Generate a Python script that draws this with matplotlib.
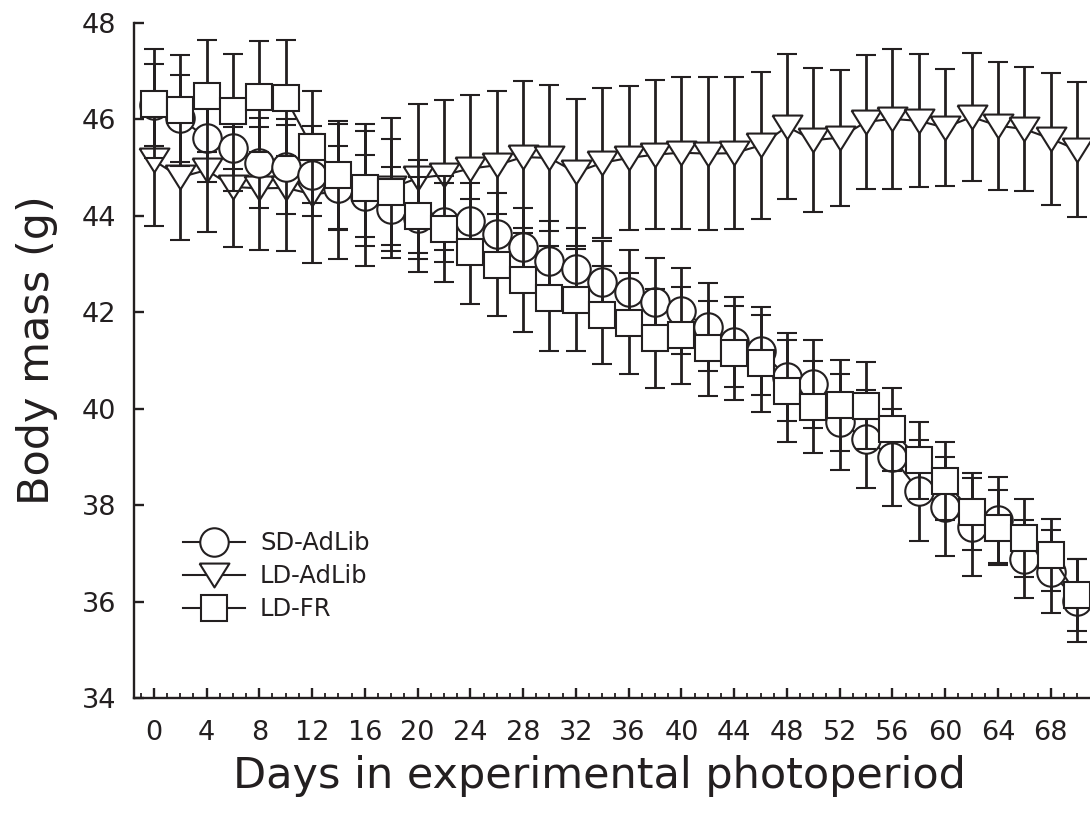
import matplotlib
matplotlib.use("Agg")
import matplotlib.pyplot as plt
from matplotlib.lines import Line2D
import numpy as np

# days in experimental photoperiod
days = list(range(0, 71, 2))

sd_adlib_mean = [46.30, 46.02, 45.62, 45.40, 45.09, 45.02, 44.84, 44.58, 44.42, 44.15,
                 43.95, 43.87, 43.90, 43.63, 43.36, 43.06, 42.89, 42.62, 42.42, 42.21,
                 42.02, 41.69, 41.38, 41.20, 40.66, 40.51, 39.72, 39.37, 38.99, 38.30,
                 37.97, 37.55, 37.69, 36.88, 36.62, 36.02]
sd_adlib_err = [0.85, 0.90, 0.92, 0.88, 0.93, 0.98, 0.85, 0.87, 0.85, 0.87,
                0.85, 0.82, 0.79, 0.84, 0.80, 0.84, 0.85, 0.86, 0.88, 0.91,
                0.89, 0.91, 0.93, 0.91, 0.91, 0.92, 1.00, 1.02, 1.01, 1.05,
                1.03, 1.02, 0.90, 0.81, 0.86, 0.86]

ld_adlib_mean = [45.15, 44.80, 44.95, 44.60, 44.57, 44.58, 44.45, 44.50, 44.43, 44.58,
                 44.78, 44.85, 44.98, 45.05, 45.22, 45.20, 44.90, 45.10, 45.20, 45.27,
                 45.31, 45.29, 45.30, 45.46, 45.85, 45.57, 45.62, 45.95, 46.01, 45.97,
                 45.83, 46.05, 45.87, 45.80, 45.60, 45.37]
ld_adlib_err = [1.35, 1.30, 1.28, 1.25, 1.27, 1.30, 1.42, 1.40, 1.47, 1.46,
                1.55, 1.56, 1.52, 1.55, 1.57, 1.52, 1.53, 1.56, 1.50, 1.54,
                1.58, 1.58, 1.57, 1.52, 1.50, 1.49, 1.41, 1.39, 1.45, 1.38,
                1.22, 1.33, 1.33, 1.28, 1.37, 1.40]

ld_fr_mean = [46.33, 46.19, 46.48, 46.17, 46.47, 46.44, 45.43, 44.84, 44.57, 44.49,
              43.99, 43.72, 43.26, 42.98, 42.67, 42.29, 42.26, 41.94, 41.77, 41.46,
              41.52, 41.25, 41.16, 40.94, 40.37, 40.04, 40.07, 40.06, 39.57, 38.93,
              38.50, 37.86, 37.53, 37.32, 36.97, 36.13]
ld_fr_err = [1.13, 1.15, 1.16, 1.19, 1.15, 1.20, 1.17, 1.12, 1.20, 1.10,
             1.16, 1.10, 1.08, 1.06, 1.08, 1.09, 1.06, 1.02, 1.04, 1.02,
             1.00, 0.98, 0.98, 1.00, 1.05, 0.95, 0.94, 0.90, 0.86, 0.80,
             0.80, 0.80, 0.78, 0.80, 0.75, 0.75]

labels = ["SD-AdLib", "LD-AdLib", "LD-FR"]

INK = '#231f20'
tri_down = [(-1, 0.8), (1, 0.8), (0, -0.8), (-1, 0.8)]
SIZES = {'o': 20.5, 'v': 21.5, 's': 18.5}


def plot_series(ax, mean, err, marker, size, z):
    ax.errorbar(days, mean, yerr=err, fmt='-', color=INK, lw=1.5,
                marker=marker, markersize=size, markerfacecolor='white',
                markeredgecolor=INK, markeredgewidth=1.5,
                ecolor=INK, elinewidth=2.0, capsize=7.5, capthick=2.0,
                zorder=z)


def legend_handle(marker, size):
    return Line2D([], [], color=INK, lw=1.5, marker=marker, markersize=size,
                  markerfacecolor='white', markeredgecolor=INK, markeredgewidth=1.5)


fig = plt.figure(figsize=(10.9, 8.27), dpi=100)
ax = fig.add_axes([134 / 1090, 1 - 698 / 827, 1 - 134 / 1090, 675 / 827])

plot_series(ax, ld_adlib_mean, ld_adlib_err, tri_down, SIZES['v'], 2)
plot_series(ax, sd_adlib_mean, sd_adlib_err, 'o', SIZES['o'], 3)
plot_series(ax, ld_fr_mean, ld_fr_err, 's', SIZES['s'], 4)

ax.set_xlim(-1.5, 70.98)
ax.set_ylim(34, 48)
ax.set_xticks(np.arange(0, 69, 4))
ax.set_xticks(np.arange(-1, 71, 1), minor=True)
ax.set_yticks(np.arange(34, 49, 2))

for side in ['top', 'right']:
    ax.spines[side].set_visible(False)
for side in ['left', 'bottom']:
    ax.spines[side].set_linewidth(1.7)
    ax.spines[side].set_color(INK)

ax.tick_params(which='major', direction='in', length=7.5, width=1.7, color=INK,
               labelsize=19.5, labelcolor=INK)
ax.tick_params(which='minor', direction='in', length=3.8, width=1.3, color=INK)
ax.tick_params(axis='x', pad=16)
ax.tick_params(axis='y', pad=13)

ax.set_xlabel("Days in experimental photoperiod", fontsize=31, color=INK)
ax.set_ylabel("Body mass (g)", fontsize=31, color=INK)
ax.xaxis.set_label_coords(0.487, -0.085)
ax.yaxis.set_label_coords(-0.08, 0.515)

handles = [legend_handle('o', SIZES['o']),
           legend_handle(tri_down, SIZES['v']),
           legend_handle('s', SIZES['s'])]
leg = ax.legend(handles, labels, loc='upper left', bbox_to_anchor=(0.0513, 0.247),
                frameon=False, fontsize=17.5, handlelength=2.55, handletextpad=0.62,
                labelspacing=0.37, borderpad=0, borderaxespad=0)
for t in leg.get_texts():
    t.set_color(INK)

fig.savefig("out.png", dpi=100)
